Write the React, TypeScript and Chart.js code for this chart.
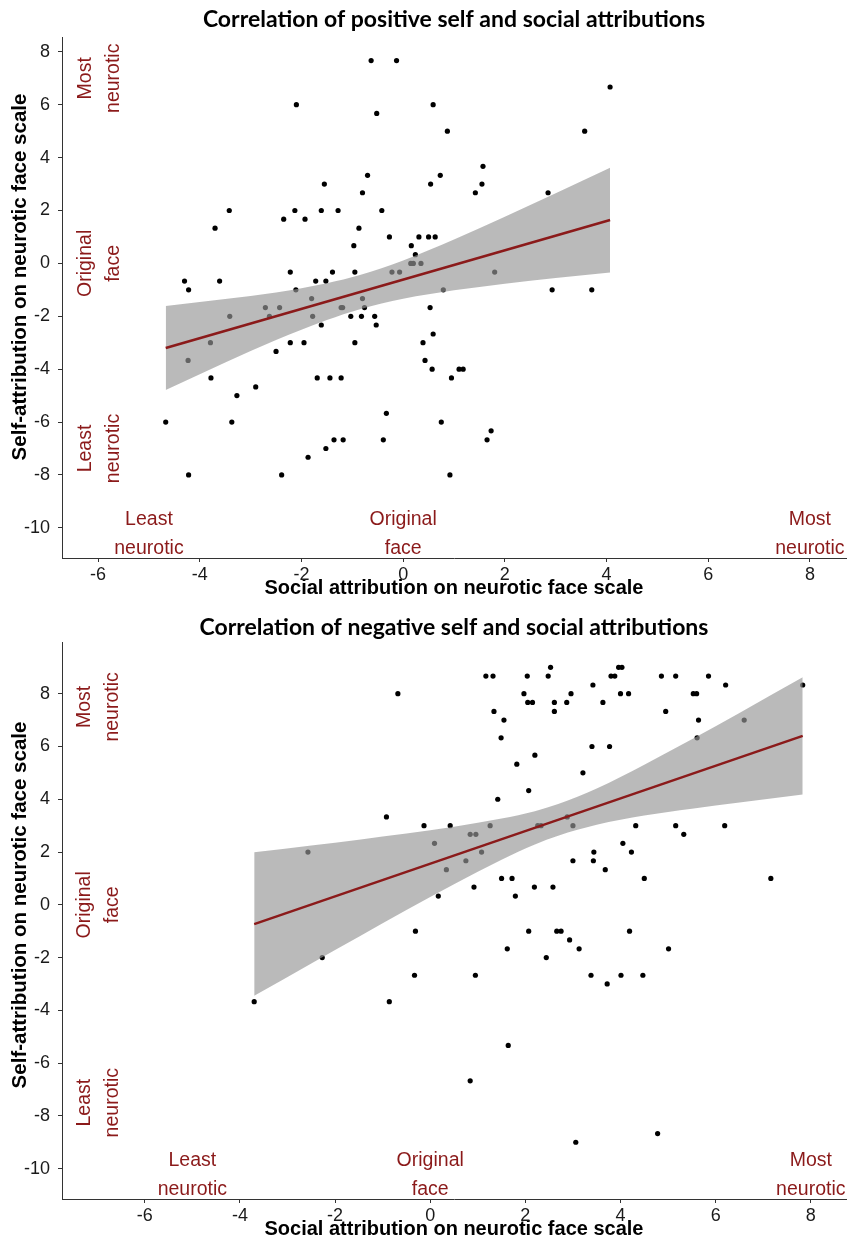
import React, { useEffect, useRef } from "react";
import { Chart, registerables } from "chart.js";

Chart.register(...registerables);

// ---------- data ----------
const xTicks = [-6, -4, -2, 0, 2, 4, 6, 8];
const yTicks = [-10, -8, -6, -4, -2, 0, 2, 4, 6, 8];

const xAxisTitle = "Social attribution on neurotic face scale";
const yAxisTitle = "Self-attribution on neurotic face scale";

const posTitle = "Correlation of positive self and social attributions";
const negTitle = "Correlation of negative self and social attributions";

// positive attributions (top panel)
const posX = [
  -2.1, -1.55, -3.42, -2.13, -1.61, -1.28, -2.35, -1.93, -3.7, -2.22, -1.39, -4.3, -3.61, -1.72, -1.52, -4.22, -2.11, -1.8,
  -0.63, -0.13, 4.07, 0.59, -0.52, 0.87, 3.57, 1.57, -0.7, 0.73, -0.8, 0.54, 1.55, 1.42, 2.85, -0.42, -0.87, -0.27, 0.31, 0.5,
  0.63, -0.97, 0.16, 0.24, 0.15, 0.2, 0.35, -0.95, -0.22, -0.07, 1.8, 0.79, 2.93, 3.71, -0.8,
  -2.71, -2.43, -3.41, -2.63, -1.78, -1.61, -3.79, -2.22, -1.95, -2.5, -4.23, -3.78, -1.69, -1.44, -2.9, -3.27, -4.67, -3.37,
  -1.36, -1.52, -1.87, -4.22, -2.39,
  -1.22, -1.19, -0.76, 0.53, -1.03, -0.82, -0.56, -0.53, -0.95, 0.39, 0.59, 0.43, 0.57, 1.1, 1.18, 0.95, -1.22, -0.33, 0.75,
  -1.18, -0.39, 1.65, 1.73, 0.92,
];
const posY = [
  6, 3, 2, 2, 2, 2, 1.67, 1.67, 1.33, -0.33, -0.33, -0.67, -0.67, -0.67, -0.67, -1, -1, -1.33,
  7.67, 7.67, 6.67, 6, 5.67, 5, 5, 3.67, 3.33, 3.33, 2.67, 3, 3, 2.67, 2.67, 2, 1.33, 1, 1, 1,
  1, 0.67, 0.67, 0.33, 0, 0, 0, -0.33, -0.33, -0.33, -0.33, -1, -1, -1, -1.33,
  -1.67, -1.67, -2, -2, -2, -2.33, -3, -3, -3, -3.33, -3.67, -4.33, -4.33, -4.33, -4.67, -5, -6, -6,
  -6.67, -7, -7.33, -8, -8,
  -1.67, -1.67, -1.67, -1.67, -2, -2, -2, -2.33, -3, -3, -2.67, -3.67, -4, -4, -4, -4.33, -4.33, -5.67, -6,
  -6.67, -6.67, -6.67, -6.33, -8,
];
const posFitX = [-4.67, 4.07];
const posFitY = [-3.2, 1.64];
const posBandX = [-4.67, -3.5, -2.5, -1.5, -0.85, 0, 1, 2, 3, 4.07];
const posBandLow = [-4.79, -3.75, -2.9, -2.14, -1.73, -1.34, -1.02, -0.77, -0.55, -0.34];
const posBandHigh = [-1.61, -1.35, -1.1, -0.75, -0.44, 0.11, 0.9, 1.76, 2.65, 3.62];

// negative attributions (bottom panel)
const negX = [
  -2.57,
  2.53, 1.17, 1.32, 2.04, 2.48, -0.68, 1.97, 2.96, 2.05, 2.15, 2.61, 2.87, 1.34, 2.61, 1.55, 1.49, 2.2, 1.82, 3.21, 2.07, 1.42,
  -0.92, -0.13, 0.42, 1.26, 2.26, 2.33, 3.0, 2.88, 0.09, 0.84, 0.96, 1.08, 0.75, 0.34, 3.0, 1.5, 1.72, 0.92, 2.19, 2.58, 0.17,
  1.79, -0.31, 2.07, 2.66, 2.75, 2.93,
  3.96, 4.03, 3.8, 3.88, 4.86, 5.16, 5.85, 3.42, 6.21, 7.83, 4.0, 4.17, 5.53, 5.6, 3.63, 4.95, 5.64, 6.6, 5.61, 3.4, 3.77,
  4.32, 5.16, 6.19, 5.33, 4.05, 3.44, 4.23, 3.43, 3.68, 4.5, 7.16, 4.19,
  -2.27, -3.7,
  1.62, 3.13, 2.44, -0.33, 0.95, 3.38, 3.72, -0.86, 1.64, 0.84, 3.06,
  5.01, 4.01, 4.47, 4.78,
];
const negY = [
  2,
  9, 8.67, 8.67, 8.67, 8.67, 8, 8, 8, 7.67, 7.67, 7.67, 7.67, 7.33, 7.33, 7, 6.33, 5.67, 5.33, 5, 4.33, 4,
  3.33, 3, 3, 3, 3, 3, 3, 3.33, 2.33, 2.67, 2.67, 2, 1.67, 1.33, 1.67, 1, 1, 0.67, 0.67, 0.67, 0.33,
  0.33, -1, -1, -1, -1, -1.33,
  9, 9, 8.67, 8.67, 8.67, 8.67, 8.67, 8.33, 8.33, 8.33, 8, 8, 8, 8, 7.67, 7.33, 7, 7, 6.33, 6, 6,
  3, 3, 3, 2.67, 2.33, 2, 2, 1.67, 1.33, 1, 1, -1,
  -2, -3.67,
  -1.67, -1.67, -2, -2.67, -2.67, -2.67, -3, -3.67, -5.33, -6.67, -9,
  -1.67, -2.67, -2.67, -8.67,
];
const negFitX = [-3.7, 7.83];
const negFitY = [-0.73, 6.4];
const negBandX = [-3.7, -2.5, -1.5, -0.5, 0.5, 1.5, 2.2, 2.69, 3.5, 4.5, 5.5, 6.5, 7.83];
const negBandLow = [-3.45, -2.22, -1.21, -0.2, 0.78, 1.71, 2.29, 2.62, 3.03, 3.38, 3.64, 3.88, 4.18];
const negBandHigh = [1.99, 2.25, 2.47, 2.7, 2.96, 3.27, 3.55, 3.82, 4.41, 5.31, 6.27, 7.27, 8.62];

// annotation texts
const yAnnoLabels = [["Most", "neurotic"], ["Original", "face"], ["Least", "neurotic"]];
const xAnnoLabels = [["Least", "neurotic"], ["Original", "face"], ["Most", "neurotic"]];
const posYAnnoX = -6;
const posYAnnoY = [7, 0, -7];
const negYAnnoX = -7;
const negYAnnoY = [7.5, 0, -7.5];
const xAnnoX = [-5, 0, 8];
const xAnnoY = -10.25;

// ---------- styling ----------
const RED = "#8b1a1a";
const SANS = "'Liberation Sans', Arial, sans-serif";
const TITLE_FONT = "Lato, 'Liberation Sans', sans-serif";

type Spec = {
  title: string;
  titlePad: { top: number; bottom: number };
  xs: number[];
  ys: number[];
  fitX: number[];
  fitY: number[];
  bandX: number[];
  bandLow: number[];
  bandHigh: number[];
  xMin: number;
  xMax: number;
  yMin: number;
  yMax: number;
  yAnnoX: number;
  yAnnoY: number[];
  yTitleY: number;
  height: number;
};

const topSpec: Spec = {
  title: posTitle,
  titlePad: { top: 6, bottom: 3.4 },
  xs: posX,
  ys: posY,
  fitX: posFitX,
  fitY: posFitY,
  bandX: posBandX,
  bandLow: posBandLow,
  bandHigh: posBandHigh,
  xMin: -6.71,
  xMax: 8.71,
  yMin: -11.14,
  yMax: 8.56,
  yAnnoX: posYAnnoX,
  yAnnoY: posYAnnoY,
  yTitleY: 277,
  height: 600,
};

const bottomSpec: Spec = {
  title: negTitle,
  titlePad: { top: 14, bottom: 0.4 },
  xs: negX,
  ys: negY,
  fitX: negFitX,
  fitY: negFitY,
  bandX: negBandX,
  bandLow: negBandLow,
  bandHigh: negBandHigh,
  xMin: -7.74,
  xMax: 8.74,
  yMin: -11.15,
  yMax: 9.96,
  yAnnoX: negYAnnoX,
  yAnnoY: negYAnnoY,
  yTitleY: 305,
  height: 641,
};

function makeAnnoPlugin(spec: Spec) {
  return {
    id: "faceAnnotations",
    afterDatasetsDraw(chart: any) {
      const { ctx } = chart;
      const xs = chart.scales.x;
      const ys = chart.scales.y;
      ctx.save();
      ctx.fillStyle = RED;
      ctx.font = `19.5px ${SANS}`;
      ctx.textAlign = "center";
      ctx.textBaseline = "middle";
      // rotated annotations along y axis
      yAnnoLabels.forEach((lines, i) => {
        const px = xs.getPixelForValue(spec.yAnnoX);
        const py = ys.getPixelForValue(spec.yAnnoY[i]);
        ctx.save();
        ctx.translate(px + 1.5, py);
        ctx.rotate(-Math.PI / 2);
        lines.forEach((t, j) => {
          ctx.fillText(t, 0, (j - (lines.length - 1) / 2) * 28);
        });
        ctx.restore();
      });
      // horizontal annotations along x axis
      xAnnoLabels.forEach((lines, i) => {
        const px = xs.getPixelForValue(xAnnoX[i]);
        const py = ys.getPixelForValue(xAnnoY);
        lines.forEach((t, j) => {
          ctx.fillText(t, px, py + (j - (lines.length - 1) / 2) * 29);
        });
      });
      // y axis title
      ctx.fillStyle = "#000";
      ctx.font = `bold 20.5px ${SANS}`;
      ctx.save();
      ctx.translate(20, spec.yTitleY);
      ctx.rotate(-Math.PI / 2);
      ctx.fillText(yAxisTitle, 0, 0);
      ctx.restore();
      ctx.restore();
    },
  };
}

function buildConfig(spec: Spec): any {
  const points = spec.xs.map((x, i) => ({ x, y: spec.ys[i] }));
  const fit = spec.fitX.map((x, i) => ({ x, y: spec.fitY[i] }));
  const high = spec.bandX.map((x, i) => ({ x, y: spec.bandHigh[i] }));
  const low = spec.bandX.map((x, i) => ({ x, y: spec.bandLow[i] }));
  const axisGrid = {
    display: true,
    drawOnChartArea: false,
    drawTicks: true,
    tickLength: 4,
    color: "#333333",
    lineWidth: 1,
  };
  const axisBorder = { display: true, color: "#333333", width: 1 };
  return {
    type: "scatter",
    data: {
      datasets: [
        {
          type: "line",
          data: fit,
          borderColor: RED,
          borderWidth: 2.5,
          pointRadius: 0,
          fill: false,
          order: 0,
        },
        {
          type: "line",
          data: high,
          borderColor: "transparent",
          borderWidth: 0,
          pointRadius: 0,
          cubicInterpolationMode: "monotone",
          fill: "+1",
          backgroundColor: "rgba(150,150,150,0.66)",
          order: 1,
        },
        {
          type: "line",
          data: low,
          borderColor: "transparent",
          borderWidth: 0,
          pointRadius: 0,
          cubicInterpolationMode: "monotone",
          fill: false,
          order: 1,
        },
        {
          type: "scatter",
          data: points,
          pointRadius: 2.6,
          pointBackgroundColor: "#000",
          pointBorderWidth: 0,
          borderWidth: 0,
          order: 2,
        },
      ],
    },
    options: {
      animation: false,
      responsive: false,
      devicePixelRatio: 1,
      events: [],
      layout: { padding: { left: 0, right: 2, top: 0, bottom: 0 } },
      plugins: {
        legend: { display: false },
        tooltip: { enabled: false },
        title: {
          display: true,
          text: spec.title,
          fullSize: false,
          color: "#000",
          font: { family: TITLE_FONT, size: 23, weight: "bold", lineHeight: 1.2 },
          padding: spec.titlePad,
        },
      },
      scales: {
        x: {
          type: "linear",
          min: spec.xMin,
          max: spec.xMax,
          afterBuildTicks: (s: any) => {
            s.ticks = xTicks.map((v) => ({ value: v }));
          },
          afterFit: (s: any) => {
            s.height = 42;
          },
          grid: axisGrid,
          border: axisBorder,
          ticks: {
            color: "#1a1a1a",
            font: { family: SANS, size: 18 },
            padding: 2,
            maxRotation: 0,
            autoSkip: false,
          },
          title: {
            display: true,
            text: xAxisTitle,
            color: "#000",
            font: { family: SANS, size: 20, weight: "bold", lineHeight: 1.2 },
            padding: { top: 0, bottom: 0 },
          },
        },
        y: {
          type: "linear",
          min: spec.yMin,
          max: spec.yMax,
          afterBuildTicks: (s: any) => {
            s.ticks = yTicks.map((v) => ({ value: v }));
          },
          afterFit: (s: any) => {
            s.width = 62;
          },
          grid: axisGrid,
          border: axisBorder,
          ticks: {
            color: "#1a1a1a",
            font: { family: SANS, size: 18 },
            padding: 8,
            autoSkip: false,
          },
          title: { display: false },
        },
      },
    },
    plugins: [makeAnnoPlugin(spec)],
  };
}

function Panel({ spec }: { spec: Spec }) {
  const ref = useRef<HTMLCanvasElement>(null);
  useEffect(() => {
    const chart = new Chart(ref.current as HTMLCanvasElement, buildConfig(spec));
    return () => chart.destroy();
  }, [spec]);
  return (
    <canvas
      ref={ref}
      width={850}
      height={spec.height}
      style={{ display: "block", width: 850, height: spec.height }}
    />
  );
}

export default function App() {
  return (
    <div style={{ position: "absolute", left: 0, top: 0, width: 850, height: 1241, background: "#fff" }}>
      <Panel spec={topSpec} />
      <Panel spec={bottomSpec} />
    </div>
  );
}
